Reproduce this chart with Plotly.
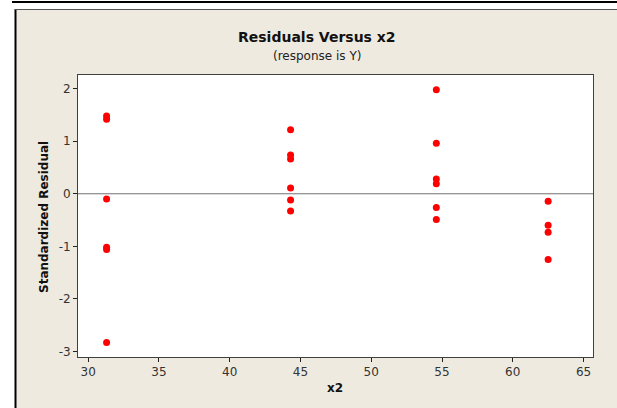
import plotly.graph_objects as go

# Data
x2 = [31.3, 31.3, 31.3, 31.3, 31.3, 31.3,
      44.3, 44.3, 44.3, 44.3, 44.3, 44.3,
      54.6, 54.6, 54.6, 54.6, 54.6, 54.6,
      62.5, 62.5, 62.5, 62.5]
std_resid = [1.48, 1.42, -0.10, -1.02, -1.06, -2.83,
             1.22, 0.74, 0.66, 0.11, -0.12, -0.33,
             1.98, 0.96, 0.28, 0.19, -0.26, -0.49,
             -0.14, -0.60, -0.73, -1.25]
x_ticks = [30, 35, 40, 45, 50, 55, 60, 65]
y_ticks = [-3, -2, -1, 0, 1, 2]

W, H = 617, 408
L, R, T, B = 78, 593, 75, 357  # plot area in pixels


def X(px):
    return (px - L) / (R - L)


def Y(py):
    return (B - py) / (B - T)


BEIGE = "#EEEAE0"
FONT = "DejaVu Sans"

fig = go.Figure()
fig.add_trace(go.Scatter(
    x=x2, y=std_resid, mode="markers",
    marker=dict(color="#FF0000", size=7, line=dict(width=0)),
    showlegend=False, cliponaxis=False,
))

shapes = [
    # white areas outside the beige panel
    dict(type="rect", xref="paper", yref="paper", x0=X(0), x1=X(W), y0=Y(0), y1=Y(9),
         fillcolor="white", line=dict(width=0), layer="below"),
    dict(type="rect", xref="paper", yref="paper", x0=X(0), x1=X(15), y0=Y(0), y1=Y(H),
         fillcolor="white", line=dict(width=0), layer="below"),
    # top black rule
    dict(type="line", xref="paper", yref="paper", x0=X(12), x1=X(W), y0=Y(2), y1=Y(2),
         line=dict(color="black", width=2)),
    # panel borders
    dict(type="line", xref="paper", yref="paper", x0=X(15.5), x1=X(15.5), y0=Y(9), y1=Y(H),
         line=dict(color="black", width=2)),
    dict(type="line", xref="paper", yref="paper", x0=X(15), x1=X(W), y0=Y(9.5), y1=Y(9.5),
         line=dict(color="#555555", width=1)),
    # zero reference line
    dict(type="line", xref="paper", yref="y", x0=0, x1=1, y0=0, y1=0,
         line=dict(color="#707070", width=1), layer="below"),
]

annotations = [
    dict(text="<b>Residuals Versus x2</b>", xref="paper", yref="paper", x=X(317), y=Y(37),
         showarrow=False, font=dict(family=FONT, size=14, color="#111111"),
         xanchor="center", yanchor="middle"),
    dict(text="(response is Y)", xref="paper", yref="paper", x=X(317), y=Y(56),
         showarrow=False, font=dict(family=FONT, size=12, color="#222222"),
         xanchor="center", yanchor="middle"),
    dict(text="<b>Standardized Residual</b>", xref="paper", yref="paper", x=X(44), y=Y(217),
         textangle=-90, showarrow=False, font=dict(family=FONT, size=12, color="#111111"),
         xanchor="center", yanchor="middle"),
    dict(text="<b>x2</b>", xref="paper", yref="paper", x=X(335), y=Y(388),
         showarrow=False, font=dict(family=FONT, size=12, color="#111111"),
         xanchor="center", yanchor="middle"),
]

axis_common = dict(
    showgrid=False, zeroline=False, showline=True, mirror=True,
    linecolor="#404040", linewidth=1,
    ticks="outside", ticklen=4, tickcolor="#222222", tickwidth=1,
    tickfont=dict(family=FONT, size=12, color="#333333"),
)

fig.update_layout(
    width=W, height=H,
    margin=dict(l=L, r=W - R, t=T, b=H - B, pad=0),
    paper_bgcolor=BEIGE, plot_bgcolor="white",
    xaxis=dict(range=[29.28, 65.67], tickvals=x_ticks, ticktext=[str(v) for v in x_ticks],
               **axis_common),
    yaxis=dict(range=[-3.106, 2.26], tickvals=y_ticks, ticktext=[str(v) for v in y_ticks],
               **axis_common),
    shapes=shapes, annotations=annotations,
)

fig.write_html("out.html", config={"responsive": False, "displayModeBar": False},
               post_script="document.body.style.margin='0';document.body.style.padding='0';")
